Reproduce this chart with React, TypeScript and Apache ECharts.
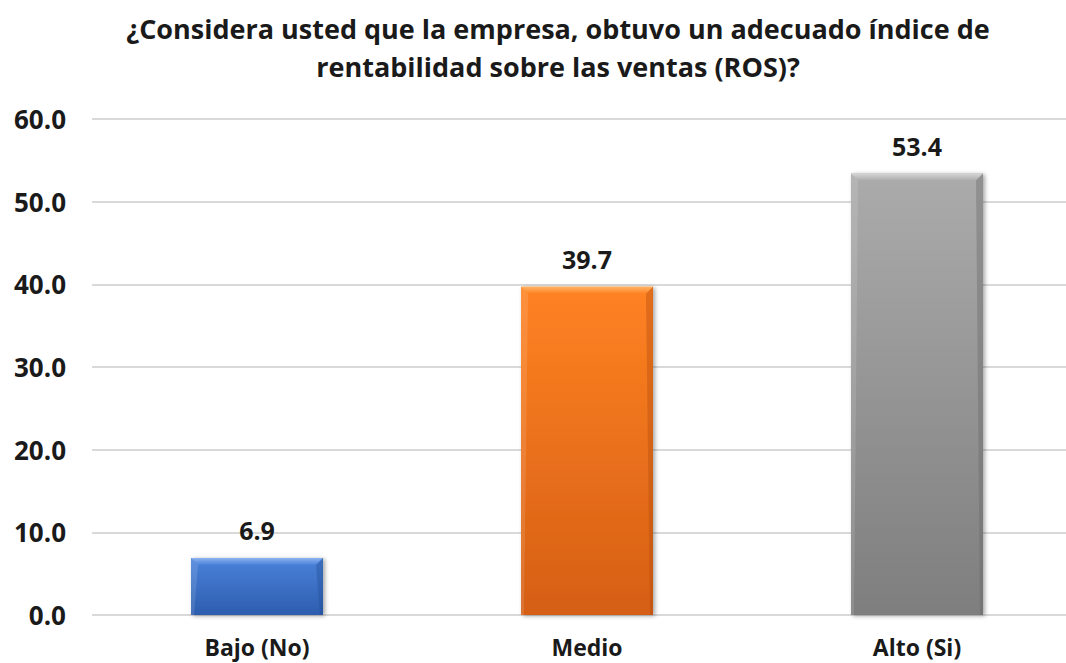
import React, { useEffect, useRef } from "react";
import * as echarts from "echarts";

const categories = ["Bajo (No)", "Medio", "Alto (Si)"];
const values = [6.9, 39.7, 53.4];
const yTicks = [0, 10, 20, 30, 40, 50, 60];
const titleText = "¿Considera usted que la empresa, obtuvo un adecuado índice de\nrentabilidad sobre las ventas (ROS)?";

const barColors = [
  { top: "#4A82DA", bottom: "#2D5DAE", bevel: "#8DB3F0", dark: "#1F4A8F" },
  { top: "#FF8222", bottom: "#D55F15", bevel: "#FFB266", dark: "#A8490E" },
  { top: "#ABABAB", bottom: "#7E7E7E", bevel: "#D6D6D6", dark: "#606060" },
];

const FONT = "'Open Sans', 'Noto Sans', sans-serif";

export default function App() {
  const ref = useRef<HTMLDivElement>(null);
  useEffect(() => {
    if (!ref.current) return;
    const chart = echarts.init(ref.current, null, { renderer: "svg" });
    const barFrac = 0.4;
    chart.setOption({
      animation: false,
      backgroundColor: "#ffffff",
      title: {
        text: titleText,
        left: 553,
        top: 4,
        textAlign: "center",
        textStyle: {
          fontFamily: FONT,
          fontWeight: "bold",
          fontSize: 27,
          lineHeight: 38,
          color: "#1a1a1a",
        },
      },
      grid: {
        left: 92,
        top: 119,
        width: 990,
        height: 496,
        containLabel: false,
        outerBoundsMode: "none",
      },
      xAxis: {
        type: "category",
        data: categories,
        axisLine: { show: false },
        axisTick: { show: false },
        axisLabel: {
          margin: 20,
          fontFamily: FONT,
          fontWeight: "bold",
          fontSize: 23,
          color: "#1a1a1a",
        },
      },
      yAxis: {
        type: "value",
        min: yTicks[0],
        max: yTicks[yTicks.length - 1],
        interval: 10,
        axisLine: { show: false },
        axisTick: { show: false },
        splitLine: { lineStyle: { color: "#D9D9D9", width: 2 } },
        axisLabel: {
          margin: 26,
          formatter: (v: number) => v.toFixed(1),
          fontFamily: FONT,
          fontWeight: "bold",
          fontSize: 26,
          color: "#1a1a1a",
        },
      },
      series: [
        {
          type: "bar",
          barWidth: "40%",
          data: values.map((v, i) => ({
            value: v,
            itemStyle: {
              color: new echarts.graphic.LinearGradient(0, 0, 0, 1, [
                { offset: 0, color: barColors[i].top },
                { offset: 1, color: barColors[i].bottom },
              ]),
              shadowColor: "rgba(0,0,0,0.35)",
              shadowBlur: 4,
              shadowOffsetX: 2,
              shadowOffsetY: 1,
            },
          })),
          label: {
            show: true,
            position: "top",
            distance: 15,
            formatter: (p: any) => Number(p.value).toFixed(1),
            fontFamily: FONT,
            fontWeight: "bold",
            fontSize: 25,
            color: "#1a1a1a",
          },
          z: 2,
        },
        {
          type: "custom",
          z: 3,
          silent: true,
          data: values.map((v, i) => [i, v]),
          renderItem: (params: any, api: any) => {
            const idx = api.value(0);
            const val = api.value(1);
            const top = api.coord([idx, val]);
            const bot = api.coord([idx, 0]);
            const w = api.size([1, 0])[0] * barFrac;
            const x0 = top[0] - w / 2;
            const x1 = top[0] + w / 2;
            const y0 = top[1];
            const y1 = bot[1];
            const b = 7;
            const c = barColors[params.dataIndex];
            return {
              type: "group",
              children: [
                {
                  type: "polygon",
                  shape: { points: [[x0, y0], [x1, y0], [x1 - b, y0 + b], [x0 + b, y0 + b]] },
                  style: {
                    fill: new echarts.graphic.LinearGradient(0, 0, 0, 1, [
                      { offset: 0, color: c.bevel },
                      { offset: 1, color: c.top },
                    ]),
                  },
                },
                {
                  type: "polygon",
                  shape: { points: [[x1, y0], [x1, y1], [x1 - 3, y1], [x1 - b, y0 + b]] },
                  style: { fill: c.dark, opacity: 0.35 },
                },
                {
                  type: "polygon",
                  shape: { points: [[x0, y0], [x0 + b, y0 + b], [x0 + 3, y1], [x0, y1]] },
                  style: { fill: "#ffffff", opacity: 0.12 },
                },
              ],
            };
          },
        },
      ],
    });
    return () => chart.dispose();
  }, []);
  return (
    <div
      ref={ref}
      style={{ position: "absolute", left: 0, top: 0, width: 1066, height: 663 }}
    />
  );
}
